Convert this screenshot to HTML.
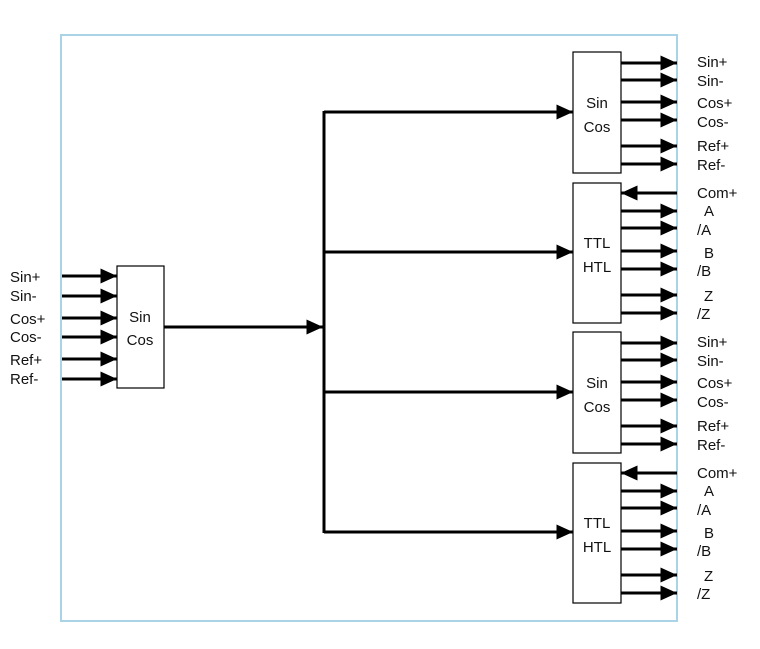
<!DOCTYPE html>
<html><head><meta charset="utf-8"><style>
html,body{margin:0;padding:0;background:#fff;}
svg{display:block;}
text{font-family:"Liberation Sans",sans-serif;font-size:15px;fill:#111;}
</style></head><body>
<svg width="760" height="649" viewBox="0 0 760 649">
<rect x="61" y="35" width="616" height="586" fill="#fff" stroke="#a8d4e6" stroke-width="2"/>
<defs>
<marker id="a" markerWidth="5.5" markerHeight="5" refX="5.5" refY="2.5" orient="auto" markerUnits="strokeWidth"><path d="M0,0 L5.5,2.5 L0,5z" fill="#000"/></marker>
</defs>
<g stroke="#000" stroke-width="3" fill="none" marker-end="url(#a)">
<line x1="62" y1="276" x2="117" y2="276"/>
<line x1="62" y1="296" x2="117" y2="296"/>
<line x1="62" y1="318" x2="117" y2="318"/>
<line x1="62" y1="337" x2="117" y2="337"/>
<line x1="62" y1="359" x2="117" y2="359"/>
<line x1="62" y1="379" x2="117" y2="379"/>
<line x1="164" y1="327" x2="323" y2="327"/>
<line x1="324" y1="112" x2="573" y2="112"/>
<line x1="324" y1="252" x2="573" y2="252"/>
<line x1="324" y1="392" x2="573" y2="392"/>
<line x1="324" y1="532" x2="573" y2="532"/>
<line x1="621" y1="63" x2="677" y2="63"/>
<line x1="621" y1="80" x2="677" y2="80"/>
<line x1="621" y1="102" x2="677" y2="102"/>
<line x1="621" y1="120" x2="677" y2="120"/>
<line x1="621" y1="146" x2="677" y2="146"/>
<line x1="621" y1="164" x2="677" y2="164"/>
<line x1="677" y1="193" x2="621" y2="193"/>
<line x1="621" y1="211" x2="677" y2="211"/>
<line x1="621" y1="228" x2="677" y2="228"/>
<line x1="621" y1="251" x2="677" y2="251"/>
<line x1="621" y1="269" x2="677" y2="269"/>
<line x1="621" y1="295" x2="677" y2="295"/>
<line x1="621" y1="313" x2="677" y2="313"/>
<line x1="621" y1="343" x2="677" y2="343"/>
<line x1="621" y1="360" x2="677" y2="360"/>
<line x1="621" y1="382" x2="677" y2="382"/>
<line x1="621" y1="400" x2="677" y2="400"/>
<line x1="621" y1="426" x2="677" y2="426"/>
<line x1="621" y1="444" x2="677" y2="444"/>
<line x1="677" y1="473" x2="621" y2="473"/>
<line x1="621" y1="491" x2="677" y2="491"/>
<line x1="621" y1="508" x2="677" y2="508"/>
<line x1="621" y1="531" x2="677" y2="531"/>
<line x1="621" y1="549" x2="677" y2="549"/>
<line x1="621" y1="575" x2="677" y2="575"/>
<line x1="621" y1="593" x2="677" y2="593"/>
</g>
<line x1="324" y1="111" x2="324" y2="533" stroke="#000" stroke-width="3"/>
<g fill="#fff" stroke="#000" stroke-width="1.2">
<rect x="117" y="266" width="47" height="122"/>
<rect x="573" y="52" width="48" height="121"/>
<rect x="573" y="183" width="48" height="140"/>
<rect x="573" y="332" width="48" height="121"/>
<rect x="573" y="463" width="48" height="140"/>
</g>
<g text-anchor="middle">
<text x="140" y="322">Sin</text><text x="140" y="345">Cos</text>
<text x="597" y="108">Sin</text><text x="597" y="132">Cos</text>
<text x="597" y="248">TTL</text><text x="597" y="272">HTL</text>
<text x="597" y="388">Sin</text><text x="597" y="412">Cos</text>
<text x="597" y="528">TTL</text><text x="597" y="552">HTL</text>
</g>
<g>
<text x="10" y="282">Sin+</text><text x="10" y="301">Sin-</text>
<text x="10" y="324">Cos+</text><text x="10" y="342">Cos-</text>
<text x="10" y="365">Ref+</text><text x="10" y="384">Ref-</text>
<text x="697" y="67">Sin+</text><text x="697" y="86">Sin-</text>
<text x="697" y="108">Cos+</text><text x="697" y="127">Cos-</text>
<text x="697" y="151">Ref+</text><text x="697" y="170">Ref-</text>
<text x="697" y="198">Com+</text><text x="704" y="216">A</text>
<text x="697" y="235">/A</text><text x="704" y="258">B</text>
<text x="697" y="276">/B</text><text x="704" y="301">Z</text>
<text x="697" y="319">/Z</text>
<text x="697" y="347">Sin+</text><text x="697" y="366">Sin-</text>
<text x="697" y="388">Cos+</text><text x="697" y="407">Cos-</text>
<text x="697" y="431">Ref+</text><text x="697" y="450">Ref-</text>
<text x="697" y="478">Com+</text><text x="704" y="496">A</text>
<text x="697" y="515">/A</text><text x="704" y="538">B</text>
<text x="697" y="556">/B</text><text x="704" y="581">Z</text>
<text x="697" y="599">/Z</text>
</g>
</svg>
</body></html>
